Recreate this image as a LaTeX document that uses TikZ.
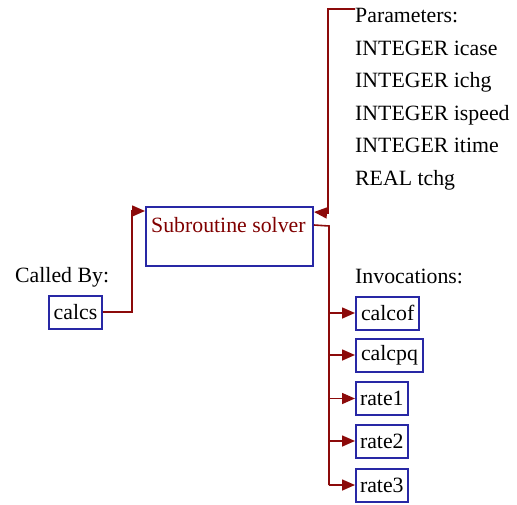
\documentclass[tikz,border=0pt]{standalone}
\usepackage{fontspec}
\setmainfont{Liberation Serif}
\usetikzlibrary{arrows.meta,calc}
\definecolor{boxblue}{RGB}{40,40,165}
\definecolor{linered}{RGB}{140,10,10}
\definecolor{maroon}{RGB}{128,0,0}
\begin{document}
\begin{tikzpicture}[x=1pt,y=-1pt,
  font=\fontsize{21.8}{24}\selectfont,
  conn/.style={draw=linered,line width=1.6pt},
  tip/.style={-{Triangle[length=13pt,width=11pt]},linered},
  fbox/.style={draw=boxblue,line width=2pt,minimum height=33pt,inner xsep=5pt,inner ysep=0pt},
  txt/.style={anchor=base west,inner sep=0pt}]
\useasboundingbox (0,0) rectangle (517,504);
% main box
\node[draw=boxblue,line width=2pt,minimum width=167pt,minimum height=59pt,inner sep=0pt] (main) at (229.5,236.5) {};
\node[txt,text=maroon] (mainlabel) at (151,232) {Subroutine solver};
% caller
\node[txt] (calledby) at (15,282) {Called By:};
\node[fbox] (calcs) at (75.5,312) {calcs};
\draw[conn,tip] (calcs.east) -- ++(29,0) |- ($(main.north west)+(0,5)$);
% parameters
\node[txt] (params) at (355,22) {Parameters:};
\node[txt] (p1) at (355,55) {INTEGER icase};
\node[txt] (p2) at (355,87.5) {INTEGER ichg};
\node[txt] (p3) at (355,120) {INTEGER ispeed};
\node[txt] (p4) at (355,152.5) {INTEGER itime};
\node[txt] (p5) at (355,185) {REAL tchg};
\coordinate (ptop) at (355,9);
\draw[conn,tip] (ptop) -| (328,213) -- ($(main.north east)+(0,6)$);
% invocations
\node[txt] (invoc) at (355,283) {Invocations:};
\node[fbox,anchor=west] (calcof) at (355,313) {calcof};
\node[fbox,anchor=west] (calcpq) at (355,355) {calcpq};
\node[fbox,anchor=west,inner xsep=4pt] (rate1) at (355,398.5) {rate1};
\node[fbox,anchor=west,inner xsep=4pt] (rate2) at (355,441) {rate2};
\node[fbox,anchor=west,inner xsep=4pt] (rate3) at (355,485) {rate3};
\coordinate (trunk) at (329,226);
\draw[conn] ($(main.north east)+(0,19)$) -- (trunk) -- (trunk |- rate3.west);
\foreach \n in {calcof,calcpq,rate1,rate2,rate3}
  \draw[conn,tip] (trunk |- \n.west) -- (\n.west);
\end{tikzpicture}
\end{document}
